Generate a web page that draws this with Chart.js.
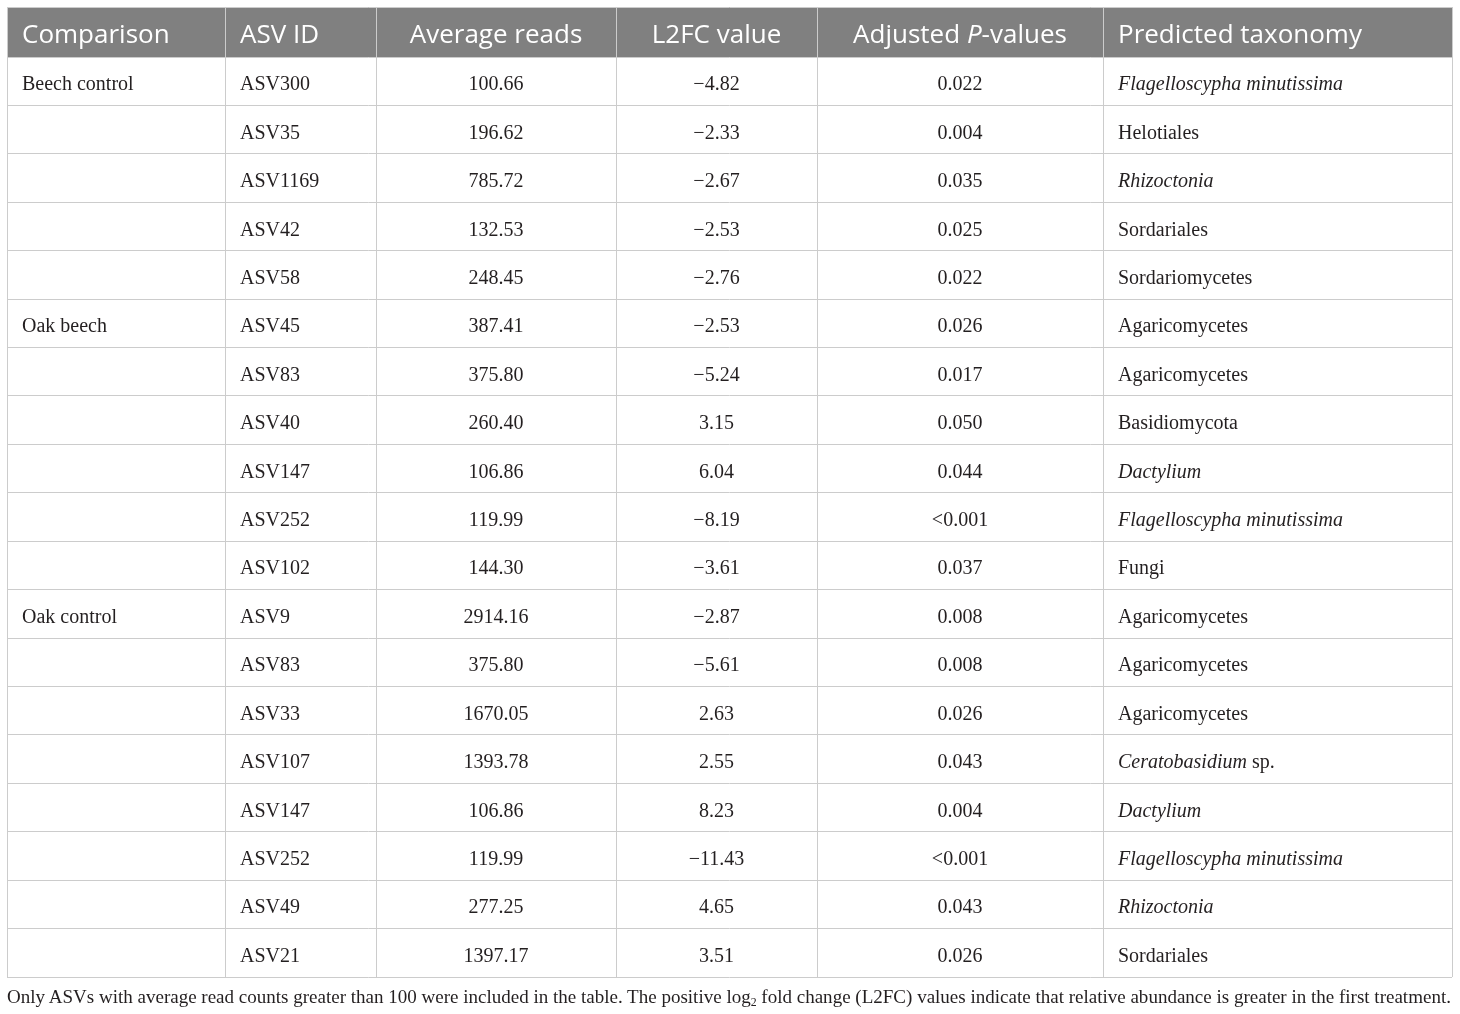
<!DOCTYPE html>
<html>
<head>
<meta charset="utf-8">
<title>ASV table</title>
<script src="https://cdn.jsdelivr.net/npm/chart.js@4.4.1/dist/chart.umd.min.js"></script>
<style>
  html, body { margin: 0; padding: 0; background: #fff; }
  #wrap { position: relative; width: 1460px; height: 1014px; overflow: hidden; }
  #note {
    position: absolute; left: 7px; top: 986px; white-space: nowrap;
    font-family: "Liberation Serif", serif; font-size: 18px; color: #231f20;
  }
  #note sub { font-size: 0.62em; vertical-align: -0.25em; line-height: 0; }
</style>
</head>
<body>
<div id="wrap">
  <canvas id="myChart" width="1460" height="1014"></canvas>
  <div id="note">Only ASVs with average read counts greater than 100 were included in the table. The positive log<sub>2</sub> fold change (L2FC) values indicate that relative abundance is greater in the first treatment.</div>
</div>
<script>
// table data
var headers = ['Comparison', 'ASV ID', 'Average reads', 'L2FC value', 'Adjusted *P*-values', 'Predicted taxonomy'];

var comparisons = ['Beech control', '', '', '', '', 'Oak beech', '', '', '', '', '', 'Oak control', '', '', '', '', '', '', ''];

var asvIds = ['ASV300', 'ASV35', 'ASV1169', 'ASV42', 'ASV58', 'ASV45', 'ASV83', 'ASV40', 'ASV147', 'ASV252',
              'ASV102', 'ASV9', 'ASV83', 'ASV33', 'ASV107', 'ASV147', 'ASV252', 'ASV49', 'ASV21'];

var averageReads = [100.66, 196.62, 785.72, 132.53, 248.45, 387.41, 375.80, 260.40, 106.86, 119.99,
                    144.30, 2914.16, 375.80, 1670.05, 1393.78, 106.86, 119.99, 277.25, 1397.17];

var l2fcValues = [-4.82, -2.33, -2.67, -2.53, -2.76, -2.53, -5.24, 3.15, 6.04, -8.19,
                  -3.61, -2.87, -5.61, 2.63, 2.55, 8.23, -11.43, 4.65, 3.51];

var adjustedP = ['0.022', '0.004', '0.035', '0.025', '0.022', '0.026', '0.017', '0.050', '0.044', '<0.001',
                 '0.037', '0.008', '0.008', '0.026', '0.043', '0.004', '<0.001', '0.043', '0.026'];

var taxonomy = ['*Flagelloscypha minutissima*', 'Helotiales', '*Rhizoctonia*', 'Sordariales', 'Sordariomycetes',
                'Agaricomycetes', 'Agaricomycetes', 'Basidiomycota', '*Dactylium*', '*Flagelloscypha minutissima*',
                'Fungi', 'Agaricomycetes', 'Agaricomycetes', 'Agaricomycetes', '*Ceratobasidium* sp.',
                '*Dactylium*', '*Flagelloscypha minutissima*', '*Rhizoctonia*', 'Sordariales'];

// layout (table units)
var colEdges = [0, 218, 369, 609, 810, 1096, 1445];
var colAlign = ['left', 'left', 'center', 'center', 'center', 'left'];
var headerRows = 1.034;
var cellPad = 15;

function fmtNum(v) {
    var s = Math.abs(v).toFixed(2);
    return v < 0 ? '\u2212' + s : s;
}

var columns = [
    comparisons,
    asvIds,
    averageReads.map(fmtNum),
    l2fcValues.map(fmtNum),
    adjustedP,
    taxonomy
];

// split "*italic* roman" into runs
function runs(text) {
    var parts = text.split('*');
    var out = [];
    for (var i = 0; i < parts.length; i++) {
        if (parts[i] !== '') out.push({ t: parts[i], it: i % 2 === 1 });
    }
    return out;
}

function drawRuns(ctx, text, x, y, align, base, italic) {
    var list = runs(text);
    var total = 0;
    list.forEach(function (r) {
        ctx.font = (r.it ? italic : base);
        r.w = ctx.measureText(r.t).width;
        total += r.w;
    });
    var cx = align === 'center' ? x - total / 2 : x;
    list.forEach(function (r) {
        ctx.font = (r.it ? italic : base);
        ctx.fillText(r.t, cx, y);
        cx += r.w;
    });
}

function anchorX(c) {
    if (colAlign[c] === 'center') return (colEdges[c] + colEdges[c + 1]) / 2;
    return colEdges[c] + cellPad;
}

// one invisible scatter set per column, anchors for the cell texts
var datasets = columns.map(function (col, c) {
    return {
        label: headers[c],
        data: col.map(function (v, i) { return { x: anchorX(c), y: i + 0.5 }; }),
        pointRadius: 0,
        pointHoverRadius: 0
    };
});

var tablePlugin = {
    id: 'tablePlugin',
    beforeDraw: function (chart) {
        var ctx = chart.ctx;
        var xs = chart.scales.x, ys = chart.scales.y;
        ctx.save();
        ctx.fillStyle = '#ffffff';
        ctx.fillRect(0, 0, chart.width, chart.height);
        // header band
        ctx.fillStyle = '#808080';
        var top = ys.getPixelForValue(-headerRows);
        var bottom = ys.getPixelForValue(0);
        var left = xs.getPixelForValue(colEdges[0]);
        var right = xs.getPixelForValue(colEdges[colEdges.length - 1]);
        ctx.fillRect(left, top, right - left, bottom - top);
        ctx.restore();
    },
    afterDraw: function (chart) {
        var ctx = chart.ctx;
        var xs = chart.scales.x, ys = chart.scales.y;
        ctx.save();
        ctx.textBaseline = 'alphabetic';

        // header texts
        ctx.fillStyle = '#ffffff';
        var hy = ys.getPixelForValue(-headerRows / 2) + 11;
        headers.forEach(function (h, c) {
            ctx.textAlign = 'left';
            drawRuns(ctx, h, xs.getPixelForValue(anchorX(c)), hy, colAlign[c],
                '26px "Open Sans"', 'italic 26px "Open Sans"');
        });

        // body texts
        ctx.fillStyle = '#231f20';
        chart.data.datasets.forEach(function (ds, c) {
            var meta = chart.getDatasetMeta(c);
            meta.data.forEach(function (pt, i) {
                var text = columns[c][i];
                if (!text) return;
                ctx.textAlign = 'left';
                drawRuns(ctx, text, pt.x, pt.y + 9, colAlign[c],
                    '20px "Liberation Serif"', 'italic 20px "Liberation Serif"');
            });
        });
        ctx.restore();
    }
};

var rowTicks = [-headerRows];
for (var r = 0; r <= asvIds.length; r++) rowTicks.push(r);

var myChart = new Chart(document.getElementById('myChart').getContext('2d'), {
    type: 'scatter',
    data: { datasets: datasets },
    options: {
        responsive: false,
        animation: false,
        devicePixelRatio: 1,
        layout: { padding: { left: 7, top: 7, right: 8, bottom: 37 } },
        plugins: { legend: { display: false }, tooltip: { enabled: false } },
        events: [],
        scales: {
            x: {
                type: 'linear',
                min: colEdges[0],
                max: colEdges[colEdges.length - 1],
                afterBuildTicks: function (scale) {
                    scale.ticks = colEdges.map(function (v) { return { value: v }; });
                },
                ticks: { display: false },
                grid: { color: '#cccccc', lineWidth: 1, drawTicks: false },
                border: { display: false }
            },
            y: {
                type: 'linear',
                reverse: true,
                min: -headerRows,
                max: asvIds.length,
                afterBuildTicks: function (scale) {
                    scale.ticks = rowTicks.map(function (v) { return { value: v }; });
                },
                ticks: { display: false },
                grid: { color: '#cccccc', lineWidth: 1, drawTicks: false },
                border: { display: false }
            }
        }
    },
    plugins: [tablePlugin]
});

// fit the note to the table width
var note = document.getElementById('note');
var target = colEdges[colEdges.length - 1] - colEdges[0];
var fs = 18 * target / note.getBoundingClientRect().width;
note.style.fontSize = fs.toFixed(2) + 'px';
</script>
</body>
</html>
